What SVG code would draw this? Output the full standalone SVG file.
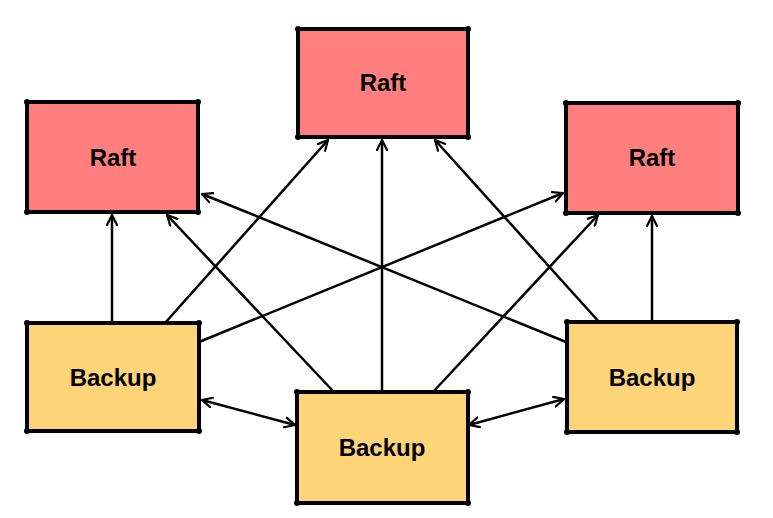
<svg xmlns="http://www.w3.org/2000/svg" width="773" height="518" viewBox="0 0 773 518">
<style>
.box{stroke:#000;stroke-width:4;stroke-linejoin:miter}
.raft{fill:#ff7f7f}
.backup{fill:#fed479}
.dot{fill:#000}
.lbl{font-family:"Liberation Sans",Arial,sans-serif;font-weight:bold;font-size:24px;fill:#000;text-anchor:middle}
.edge{stroke:#000;stroke-width:2.5;fill:none}
</style>
<defs>
<marker id="ah" viewBox="0 0 12 12" refX="11" refY="6" markerWidth="12" markerHeight="12" markerUnits="userSpaceOnUse" orient="auto-start-reverse">
<path d="M1,1 L11,6 L1,11" fill="none" stroke="#000" stroke-width="2.2" stroke-linecap="round" stroke-linejoin="round"/>
</marker>
</defs>
<rect width="773" height="518" fill="#fff"/>
<g id="connectors">
<line class="edge" x1="112" y1="323" x2="112" y2="215" marker-end="url(#ah)"/>
<line class="edge" x1="165" y1="323" x2="328" y2="140" marker-end="url(#ah)"/>
<line class="edge" x1="199" y1="342" x2="563" y2="193" marker-end="url(#ah)"/>
<line class="edge" x1="333" y1="391" x2="167" y2="215" marker-end="url(#ah)"/>
<line class="edge" x1="382" y1="392" x2="382" y2="140" marker-end="url(#ah)"/>
<line class="edge" x1="433" y1="392" x2="598" y2="215" marker-end="url(#ah)"/>
<line class="edge" x1="600" y1="323" x2="435" y2="140" marker-end="url(#ah)"/>
<line class="edge" x1="566" y1="342" x2="202" y2="194" marker-end="url(#ah)"/>
<line class="edge" x1="652" y1="322" x2="652" y2="216" marker-end="url(#ah)"/>
<line class="edge" x1="202" y1="400" x2="295" y2="425" marker-start="url(#ah)" marker-end="url(#ah)"/>
<line class="edge" x1="469" y1="425" x2="564" y2="399" marker-start="url(#ah)" marker-end="url(#ah)"/>
</g>
<g id="raft-top">
<rect class="box raft" x="298" y="29" width="170" height="108"/>
<circle class="dot" cx="298" cy="29" r="3"/><circle class="dot" cx="468" cy="29" r="3"/><circle class="dot" cx="298" cy="137" r="3"/><circle class="dot" cx="468" cy="137" r="3"/>
<text class="lbl" x="383" y="91">Raft</text>
</g>
<g id="raft-left">
<rect class="box raft" x="27" y="102" width="171" height="110"/>
<circle class="dot" cx="27" cy="102" r="3"/><circle class="dot" cx="198" cy="102" r="3"/><circle class="dot" cx="27" cy="212" r="3"/><circle class="dot" cx="198" cy="212" r="3"/>
<text class="lbl" x="113" y="166">Raft</text>
</g>
<g id="raft-right">
<rect class="box raft" x="566" y="103" width="172" height="110"/>
<circle class="dot" cx="566" cy="103" r="3"/><circle class="dot" cx="738" cy="103" r="3"/><circle class="dot" cx="566" cy="213" r="3"/><circle class="dot" cx="738" cy="213" r="3"/>
<text class="lbl" x="652" y="166">Raft</text>
</g>
<g id="backup-left">
<rect class="box backup" x="27" y="323" width="172" height="108"/>
<circle class="dot" cx="27" cy="323" r="3"/><circle class="dot" cx="199" cy="323" r="3"/><circle class="dot" cx="27" cy="431" r="3"/><circle class="dot" cx="199" cy="431" r="3"/>
<text class="lbl" x="113" y="386">Backup</text>
</g>
<g id="backup-middle">
<rect class="box backup" x="297" y="392" width="171" height="111"/>
<circle class="dot" cx="297" cy="392" r="3"/><circle class="dot" cx="468" cy="392" r="3"/><circle class="dot" cx="297" cy="503" r="3"/><circle class="dot" cx="468" cy="503" r="3"/>
<text class="lbl" x="382" y="456">Backup</text>
</g>
<g id="backup-right">
<rect class="box backup" x="567" y="322" width="170" height="110"/>
<circle class="dot" cx="567" cy="322" r="3"/><circle class="dot" cx="737" cy="322" r="3"/><circle class="dot" cx="567" cy="432" r="3"/><circle class="dot" cx="737" cy="432" r="3"/>
<text class="lbl" x="652" y="386">Backup</text>
</g>
</svg>
